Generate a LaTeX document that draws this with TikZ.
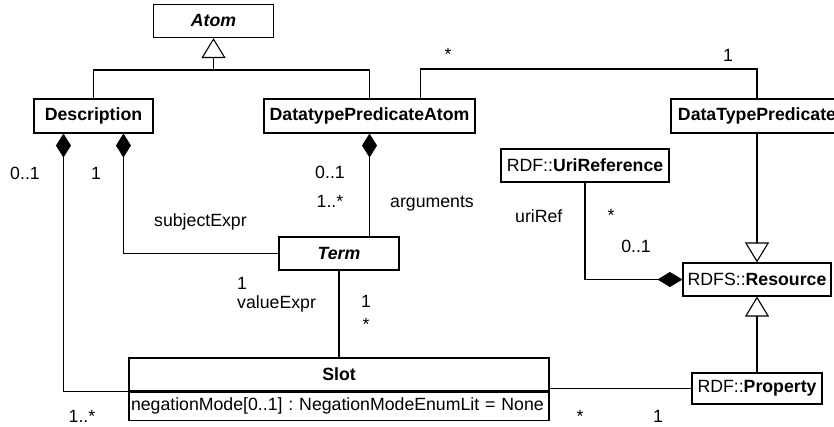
\documentclass[tikz,border=0pt]{standalone}
\usepackage{fontspec}
\setmainfont{Liberation Sans}
\usetikzlibrary{arrows.meta,calc}
\frenchspacing
\begin{document}
\begin{tikzpicture}[x=1pt,y=-1pt,
  every node/.style={font=\fontsize{17.7}{20}\selectfont},
  cls/.style={draw, line width=1.1pt, inner sep=0pt, minimum height=33},
  lbl/.style={anchor=base, inner sep=0pt},
  lblw/.style={anchor=base west, inner sep=0pt},
  conn/.style={line width=1.1pt},
  gen/.style={conn, -{Triangle[open, length=20pt, width=24pt, line width=1.1pt]}},
  compS/.style={conn, {Diamond[length=24pt, width=15pt]}-},
  compE/.style={conn, -{Diamond[length=25pt, width=15pt]}}
]
\useasboundingbox (0,0) rectangle (834,427);
% classes
\node[cls, minimum width=120] (atom) at (213.5,21) {\textbf{\textit{Atom}}};
\node[cls, minimum width=119, minimum height=34] (desc) at (93.5,116) {\textbf{Description}};
\node[cls, minimum width=211, minimum height=34] (dpa) at (369.5,116) {\textbf{DatatypePredicateAtom}};
\node[cls, minimum width=172, minimum height=34] (dtp) at (757,116) {\textbf{DataTypePredicate}};
\node[cls, minimum width=168] (uri) at (585,165.5) {RDF::\textbf{UriReference}};
\node[cls, minimum width=148] (res) at (757,279.5) {RDFS::\textbf{Resource}};
\node[cls, minimum width=130, minimum height=31] (prop) at (757,388.5) {RDF::\textbf{Property}};
\node[cls, minimum width=120] (term) at (339,253.5) {\textbf{\textit{Term}}};
\node[cls, minimum width=420] (slot) at (339,374.5) {\textbf{Slot}};
\node[draw, line width=1.1pt, minimum height=28, text width=416, inner xsep=2pt, inner ysep=0pt, align=left, anchor=north] (slotattr) at (slot.south) {negationMode[0..1] : NegationModeEnumLit = None};
% generalization Atom
\coordinate (j) at (213.5,70);
\draw[gen] (j) -- (atom.south);
\draw[conn] (desc.north) |- (j) -| (dpa.north);
% DPA - DTP association
\coordinate (dpaTop) at ($(dpa.north west)+(157,0)$);
\coordinate (dtpTop) at (757,69);
\draw[conn] (dpaTop) |- (dtpTop) -- (dtp.north);
% Description compositions
\coordinate (d1) at ($(desc.south west)+(30,0)$);
\coordinate (d2) at ($(desc.south west)+(90,0)$);
\draw[compS] (d1) |- (slot.south west);
\draw[compS] (d2) |- (term.west);
% DPA composition to Term
\draw[compS] (dpa.south) -- (dpa.south |- term.north);
% Term - Slot
\draw[conn] (term.south) -- (slot.north);
% Slot - Property
\draw[conn] (prop.west) -- (prop.west -| slot.east);
% UriRef - Resource
\draw[compE] (uri.south) |- (res.west);
% generalizations to Resource
\draw[gen] (dtp.south) -- (res.north);
\draw[gen] (prop.north) -- (res.south);
% labels
\node[lbl] (l1) at (448,61) {*};
\node[lbl] (l2) at (728,62) {1};
\node[lbl] (l3) at (25,180) {0..1};
\node[lbl] (l4) at (96,180) {1};
\node[lbl] (l5) at (330,179) {0..1};
\node[lbl] (l6) at (330,208) {1..*};
\node[lblw] (l7) at (390,208) {arguments};
\node[lblw] (l8) at (154,227) {subjectExpr};
\node[lbl] (l9) at (242,289) {1};
\node[lblw] (l10) at (237,308) {valueExpr};
\node[lbl] (l11) at (366,307) {1};
\node[lbl] (l12) at (366,330) {*};
\node[lbl] (l13) at (82,422) {1..*};
\node[lblw] (l14) at (515,223) {uriRef};
\node[lbl] (l15) at (611,222) {*};
\node[lbl] (l16) at (636,253) {0..1};
\node[lbl] (l17) at (580,422) {*};
\node[lbl] (l18) at (658,422) {1};
\end{tikzpicture}
\end{document}
